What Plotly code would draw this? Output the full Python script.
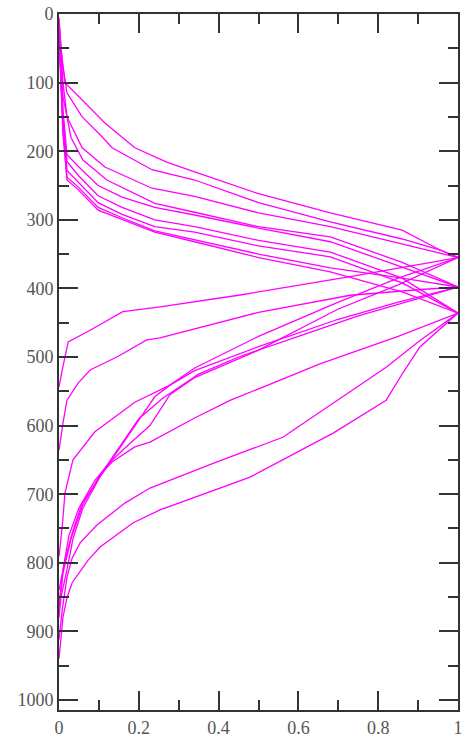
import plotly.graph_objects as go

# Upper branches (x = normalised value, d = depth), from surface to peak
U1_X = [0, 0.005, 0.015, 0.065, 0.115, 0.19, 0.27, 0.34, 0.5, 0.68, 0.86, 0.955, 1]
U1_D = [5, 50, 100, 130, 159, 195, 216, 230, 262, 290, 315, 344, 355]
U2_X = [0, 0.008, 0.02, 0.058, 0.108, 0.133, 0.233, 0.34, 0.5, 0.68, 0.86, 0.96, 1]
U2_D = [10, 70, 115, 150, 179, 195, 227, 242, 275, 303, 328, 345, 355]
U3_X = [0, 0.01, 0.02, 0.058, 0.115, 0.233, 0.34, 0.5, 0.68, 0.86, 1]
U3_D = [15, 100, 150, 195, 223, 254, 266, 290, 310, 335, 355]
U4_X = [0, 0.01, 0.03, 0.06, 0.12, 0.24, 0.34, 0.5, 0.68, 0.86, 1]
U4_D = [20, 120, 180, 213, 242, 276, 289, 310, 325, 362, 398]
UB_X = [0, 0.01, 0.02, 0.048, 0.098, 0.158, 0.24, 0.34, 0.5, 0.68, 0.86, 1]
U5_D = [20, 140, 205, 222, 250, 267, 282, 293, 312, 332, 369, 398]
U6_D = [25, 150, 215, 235, 265, 282, 300, 310, 330, 347, 385, 436]
U7_D = [25, 160, 228, 245, 275, 292, 310, 318, 338, 354, 392, 436]
U8_D = [30, 170, 238, 252, 282, 297, 316, 329, 350, 370, 385, 398]
U9_D = [30, 175, 242, 256, 286, 300, 318, 332, 355, 376, 405, 436]

# Lower branches, from peak down to depth
L1_X = [1, 0.73, 0.45, 0.253, 0.16, 0.078, 0.023, 0.008, 0]
L1_D = [355, 383, 410, 427, 434, 461, 478, 519, 544]
L2_X = [1, 0.9, 0.73, 0.5, 0.253, 0.22, 0.145, 0.078, 0.048, 0.02, 0.01, 0]
L2_D = [398, 402, 410, 435, 472, 475, 500, 519, 538, 563, 596, 636]
L3_X = [1, 0.85, 0.7, 0.5, 0.34, 0.278, 0.19, 0.09, 0.035, 0.015, 0.008, 0]
L3_D = [355, 385, 420, 470, 516, 541, 566, 609, 650, 698, 748, 791]
L4_X = [1, 0.85, 0.7, 0.5, 0.34, 0.278, 0.24, 0.208, 0.135, 0.108, 0.058, 0.033, 0.015, 0]
L4_D = [398, 420, 445, 485, 520, 541, 558, 585, 647, 669, 713, 757, 796, 840]
L5_X = [1, 0.85, 0.654, 0.43, 0.34, 0.228, 0.19, 0.133, 0.108, 0.06, 0.035, 0.02, 0.005, 0]
L5_D = [436, 470, 510, 563, 589, 624, 631, 653, 669, 720, 765, 810, 850, 880]
L6_X = [1, 0.85, 0.7, 0.5, 0.34, 0.278, 0.228, 0.17, 0.125, 0.09, 0.05, 0.025, 0.01, 0]
L6_D = [355, 395, 430, 490, 530, 555, 600, 630, 655, 680, 720, 760, 810, 860]
L7_X = [1, 0.9, 0.82, 0.697, 0.561, 0.396, 0.228, 0.165, 0.095, 0.053, 0.033, 0.02, 0.008, 0]
L7_D = [436, 478, 515, 563, 617, 653, 691, 713, 745, 771, 793, 821, 869, 912]
L8_X = [1, 0.905, 0.862, 0.82, 0.687, 0.479, 0.253, 0.185, 0.103, 0.073, 0.033, 0.02, 0.01, 0.004, 0]
L8_D = [436, 485, 523, 563, 611, 675, 723, 742, 777, 796, 829, 851, 879, 912, 940]
L9_X = [1, 0.9, 0.75, 0.6, 0.45, 0.35, 0.3, 0.26, 0.2, 0.14, 0.1, 0.06, 0.03, 0.01, 0]
L9_D = [398, 415, 440, 470, 500, 525, 545, 560, 590, 640, 675, 715, 765, 815, 870]

PROFILES = [
    (U1_X, U1_D, L1_X, L1_D),
    (U2_X, U2_D, L3_X, L3_D),
    (U3_X, U3_D, L6_X, L6_D),
    (U4_X, U4_D, L2_X, L2_D),
    (UB_X, U5_D, L4_X, L4_D),
    (UB_X, U8_D, L9_X, L9_D),
    (UB_X, U6_D, L5_X, L5_D),
    (UB_X, U7_D, L7_X, L7_D),
    (UB_X, U9_D, L8_X, L8_D),
]

X_TICKS = [0, 0.2, 0.4, 0.6, 0.8, 1]
X_LABELS = ["0", "0.2", "0.4", "0.6", "0.8", "1"]
Y_TICKS = [0, 100, 200, 300, 400, 500, 600, 700, 800, 900, 1000]
Y_LABELS = [str(v) for v in Y_TICKS]

fig = go.Figure()
for ux, ud, lx, ld in PROFILES:
    fig.add_trace(go.Scatter(x=list(ux) + list(lx[1:]), y=list(ud) + list(ld[1:]),
                             mode="lines", line=dict(color="#ff00ff", width=1.3),
                             showlegend=False, hoverinfo="skip"))

axis_font = dict(family="Liberation Serif", size=18, color="#555555")
common = dict(showline=True, linecolor="#333333", linewidth=2, mirror="ticks",
              ticks="inside", tickcolor="#333333", tickwidth=2, ticklen=19,
              showgrid=False, zeroline=False, tickfont=axis_font, automargin=False)

fig.update_xaxes(range=[0, 1], tickvals=X_TICKS, ticktext=X_LABELS,
                 minor=dict(ticks="inside", ticklen=10, tickwidth=2, tickcolor="#333333", dtick=0.1, showgrid=False),
                 **common)
fig.update_yaxes(range=[1014.6, 0], tickvals=Y_TICKS, ticktext=Y_LABELS,
                 minor=dict(ticks="inside", ticklen=10, tickwidth=2, tickcolor="#333333", dtick=50, showgrid=False),
                 **common)

fig.update_layout(width=464, height=738, margin=dict(l=59, r=6, t=14, b=28, autoexpand=False),
                  paper_bgcolor="white", plot_bgcolor="white")
fig.write_html("out.html")
